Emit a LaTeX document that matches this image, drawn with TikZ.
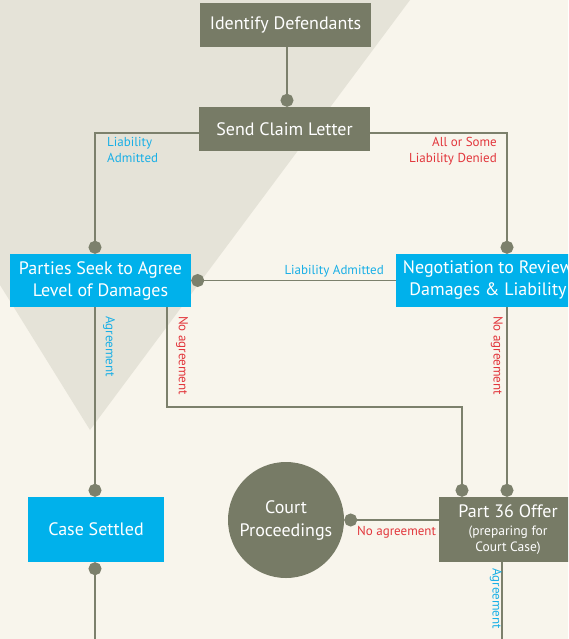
\documentclass[tikz,border=0pt]{standalone}
\usepackage{fontspec}
\setmainfont{PT Sans}
\usetikzlibrary{arrows.meta,positioning}

\definecolor{paper}{HTML}{F8F5EC}
\definecolor{veil}{HTML}{E5E3D8}
\definecolor{olive}{HTML}{777B66}
\definecolor{sky}{HTML}{00B1EB}
\definecolor{wire}{HTML}{7C806C}
\definecolor{nogo}{HTML}{E2363C}
\definecolor{okgo}{HTML}{19AFE6}

\newcommand{\offersmall}{\fontsize{13.5}{16}\selectfont}

\tikzset{
  stepbox/.style={rectangle, fill=#1, text=white, align=center, inner sep=2pt,
    font=\fontsize{18}{22}\selectfont},
  link/.style={draw=wire, line width=1.8pt, -{Circle[length=13pt]}},
  plain/.style={draw=wire, line width=1.8pt},
  yeslabel/.style={text=okgo, inner sep=0pt, font=\fontsize{13}{16}\selectfont},
  nolabel/.style={text=nogo, inner sep=0pt, font=\fontsize{13}{16}\selectfont},
}

\begin{document}
\begin{tikzpicture}[x=1pt, y=-1pt]
    \useasboundingbox (0,0) rectangle (568,639);
    \clip (0,0) rectangle (568,639);
    % Background
    \fill[paper] (0,0) rectangle (568,639);
    \fill[veil] (0,0) -- (410,0) -- (90,430) -- (0,285) -- cycle;

    % Nodes
    \node (identify) [stepbox=olive, minimum width=171pt, minimum height=44pt] at (285.5,25) {Identify Defendants};
    \node (claim) [stepbox=olive, minimum width=171pt, minimum height=44pt] at (284.5,129) {Send Claim Letter};
    \node (parties) [stepbox=sky, minimum width=181pt, minimum height=53pt] at (100.5,280.5) {Parties Seek to Agree\\Level of Damages};
    \node (negotiation) [stepbox=sky, minimum width=184pt, minimum height=53pt] at (488,280.5) {Negotiation to Review\\Damages \& Liability};
    \node (settled) [stepbox=sky, minimum width=136pt, minimum height=65pt] at (96,529.5) {Case Settled};
    \node (court) [stepbox=olive, circle, minimum size=116pt, inner sep=0pt,
      font=\fontsize{18}{23}\selectfont] at (286,520) {Court\\Proceedings};
    \node (offer) [stepbox=olive, minimum width=138pt, minimum height=65pt] at (508,529.5)
      {Part 36 Offer\\[-4pt]{\offersmall(preparing for}\\[-6pt]{\offersmall Court Case)}};
    \coordinate (bottomL) at (95,645);
    \coordinate (bottomR) at (502,645);

    % Arrows
    \draw[link] (identify.south -| 287,0) -- (claim.north -| 287,0);
    \draw[link] ([yshift=-4pt]claim.west) -| ([xshift=-5.5pt]parties.north);
    \draw[link] ([yshift=-4pt]claim.east) -| ([xshift=19pt]negotiation.north);
    \draw[link] (negotiation.west) -- (parties.east);
    \draw[link] ([xshift=-5.5pt]parties.south) -- ([xshift=-1pt]settled.north);
    \draw[link] ([xshift=66.5pt]parties.south) -- ++(0,100) -| ([xshift=-46pt]offer.north);
    \draw[link] ([xshift=19pt]negotiation.south) -- ([xshift=-1pt]offer.north);
    \draw[link] (offer.west |- court.east) -- (court.east);
    \draw[plain, {Circle[length=13pt]}-] ([xshift=-1pt]settled.south) -- (bottomL);
    \draw[plain] ([xshift=-6pt]offer.south) -- (bottomR);

    % Labels
    \node[yeslabel, anchor=north west, align=left] at (107,137) {Liability\\Admitted};
    \node[nolabel, anchor=north east, align=right] at (497,137) {All or Some\\Liability Denied};
    \node[yeslabel, anchor=base east] at (384,274) {Liability Admitted};
    \node[yeslabel, rotate=-90, anchor=south west] at (103,316) {Agreement};
    \node[nolabel, rotate=-90, anchor=south west] at (176,316) {No agreement};
    \node[nolabel, rotate=-90, anchor=north west] at (503,316) {No agreement};
    \node[nolabel, anchor=base west] at (357,535) {No agreement};
    \node[yeslabel, rotate=-90, anchor=north west] at (502,568) {Agreement};
\end{tikzpicture}
\end{document}
